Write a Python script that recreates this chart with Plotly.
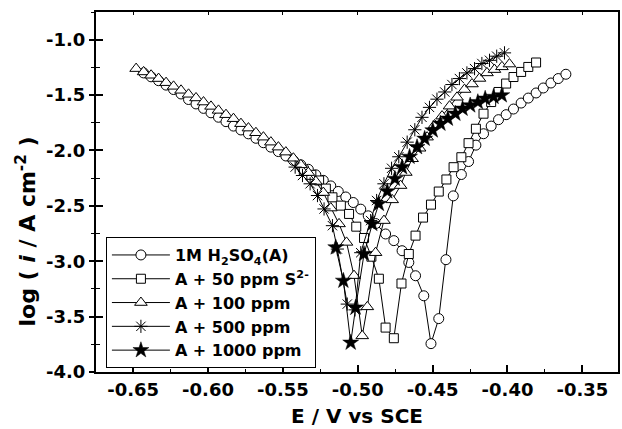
import plotly.graph_objects as go

# ---------------- data ----------------
names = ["1M H<sub>2</sub>SO<sub>4</sub>(A)", "A + 50 ppm S<sup>2-</sup>",
         "A + 100 ppm", "A + 500 ppm", "A + 1000 ppm"]

E_blank = [-0.643, -0.638, -0.633, -0.628, -0.623, -0.618, -0.613, -0.608, -0.603, -0.598,
           -0.593, -0.588, -0.583, -0.578, -0.573, -0.568, -0.563, -0.558, -0.553, -0.548,
           -0.543, -0.538, -0.533, -0.528, -0.523, -0.518, -0.513, -0.508, -0.503, -0.498,
           -0.493, -0.488, -0.4814, -0.4759, -0.4704, -0.4659, -0.4614, -0.4559, -0.4511,
           -0.4459, -0.4411, -0.4362, -0.4308, -0.426, -0.4211, -0.416, -0.4109, -0.406,
           -0.4009, -0.396, -0.3909, -0.3861, -0.3809, -0.3761, -0.371, -0.3661, -0.361]
log_blank = [-1.30, -1.335, -1.37, -1.41, -1.45, -1.49, -1.54, -1.58, -1.62, -1.66,
             -1.70, -1.74, -1.78, -1.815, -1.85, -1.89, -1.93, -1.97, -2.01, -2.05,
             -2.09, -2.13, -2.17, -2.22, -2.27, -2.32, -2.37, -2.42, -2.47, -2.53,
             -2.59, -2.66, -2.754, -2.814, -2.905, -3.011, -3.131, -3.312, -3.744,
             -3.518, -2.986, -2.410, -2.217, -2.100, -1.952, -1.849, -1.780, -1.722,
             -1.677, -1.626, -1.572, -1.527, -1.481, -1.436, -1.391, -1.351, -1.312]

E_50 = [-0.536, -0.531, -0.5258, -0.5213, -0.5169, -0.5113, -0.5058, -0.5010, -0.4958,
        -0.4909, -0.4859, -0.4814, -0.4759, -0.4708, -0.4659, -0.4614, -0.4564, -0.4511,
        -0.4459, -0.4408, -0.4360, -0.4308, -0.4260, -0.4211, -0.4160, -0.4109, -0.4060,
        -0.4009, -0.3960, -0.3909, -0.3861, -0.3809]
log_50 = [-2.18, -2.22, -2.271, -2.344, -2.423, -2.498, -2.573, -2.688, -2.790,
          -2.959, -3.158, -3.599, -3.695, -3.201, -2.935, -2.769, -2.606, -2.489,
          -2.371, -2.262, -2.151, -2.061, -1.934, -1.804, -1.668, -1.563, -1.472,
          -1.396, -1.337, -1.291, -1.246, -1.206]

E_100 = [-0.648, -0.643, -0.638, -0.633, -0.628, -0.623, -0.618, -0.613, -0.608, -0.603,
         -0.598, -0.593, -0.588, -0.583, -0.578, -0.573, -0.568, -0.563, -0.558, -0.553,
         -0.548, -0.543, -0.538, -0.533, -0.528, -0.523, -0.518, -0.5125, -0.5075, -0.5025,
         -0.497, -0.4936, -0.4881, -0.4825, -0.477, -0.4714, -0.4679, -0.4637, -0.4587,
         -0.4537, -0.4487, -0.4437, -0.4387, -0.4337, -0.4287, -0.4237, -0.4187, -0.4137,
         -0.4087, -0.4037, -0.3987]
log_100 = [-1.261, -1.291, -1.321, -1.351, -1.388, -1.421, -1.457, -1.493, -1.526, -1.563,
           -1.602, -1.638, -1.677, -1.713, -1.758, -1.798, -1.840, -1.880, -1.925, -1.970,
           -2.015, -2.07, -2.13, -2.20, -2.28, -2.38, -2.52, -2.663, -2.83, -3.13,
           -3.674, -3.412, -2.923, -2.633, -2.446, -2.317, -2.199, -2.075, -1.98,
           -1.88, -1.77, -1.69, -1.60, -1.52, -1.45, -1.40, -1.35, -1.30,
           -1.27, -1.245, -1.22]

E_500 = [-0.5418, -0.5369, -0.5318, -0.5269, -0.5225, -0.5169, -0.5136, -0.5070, -0.5018,
         -0.4980, -0.4914, -0.4874, -0.4825, -0.4774, -0.4726, -0.4670, -0.4619, -0.4571,
         -0.4521, -0.4471, -0.4419, -0.4371, -0.4321, -0.4271, -0.4220, -0.4171, -0.4120,
         -0.4072, -0.4020]
log_500 = [-2.15, -2.226, -2.301, -2.407, -2.528, -2.679, -2.890, -3.387, -3.439,
           -2.923, -2.633, -2.452, -2.301, -2.161, -2.057, -1.925, -1.813, -1.701,
           -1.611, -1.537, -1.472, -1.405, -1.351, -1.300, -1.261, -1.215, -1.186,
           -1.149, -1.119]

E_1000 = [-0.5147, -0.5096, -0.5047, -0.5014, -0.4958, -0.4903, -0.4859, -0.4803, -0.4752,
          -0.4704, -0.4654, -0.4604, -0.4553, -0.4499, -0.4448, -0.4398, -0.4348, -0.4300,
          -0.4249, -0.4198, -0.4149, -0.4093, -0.4038]
log_1000 = [-2.875, -3.176, -3.735, -3.418, -2.935, -2.663, -2.482, -2.369, -2.256,
            -2.151, -2.057, -1.970, -1.894, -1.819, -1.758, -1.713, -1.668, -1.623,
            -1.593, -1.563, -1.532, -1.516, -1.502]

x_ticks = [-0.65, -0.60, -0.55, -0.50, -0.45, -0.40, -0.35]
x_ticklabels = ["-0.65", "-0.60", "-0.55", "-0.50", "-0.45", "-0.40", "-0.35"]
y_ticks = [-4.0, -3.5, -3.0, -2.5, -2.0, -1.5, -1.0]
y_ticklabels = ["-4.0", "-3.5", "-3.0", "-2.5", "-2.0", "-1.5", "-1.0"]

X_RANGE = [-0.6748, -0.3262]
Y_RANGE = [-4.0, -0.75]

# ---------------- figure ----------------
FONT = "DejaVu Sans"
series = [
    (names[0], E_blank, log_blank, dict(symbol="circle", size=10, color="white",
                                        line=dict(color="black", width=1))),
    (names[1], E_50, log_50, dict(symbol="square", size=9, color="white",
                                  line=dict(color="black", width=1))),
    (names[2], E_100, log_100, dict(symbol="triangle-up", size=11, color="white",
                                    line=dict(color="black", width=1))),
    (names[4], E_1000, log_1000, dict(symbol="star", size=12, color="black",
                                      line=dict(color="black", width=0.5))),
    (names[3], E_500, log_500, dict(symbol="asterisk-open", size=11, color="black",
                                    line=dict(color="black", width=1))),
]
legend_rank = {names[0]: 1, names[1]: 2, names[2]: 3, names[3]: 4, names[4]: 5}

fig = go.Figure()
for nm, xs, ys, mk in series:
    assert len(xs) == len(ys), nm
    fig.add_trace(go.Scatter(x=xs, y=ys, name=nm, mode="lines+markers",
                             line=dict(color="black", width=1), marker=mk,
                             legendrank=legend_rank[nm]))
# empty trace to activate the tick-overlay axes
fig.add_trace(go.Scatter(x=[], y=[], xaxis="x2", yaxis="y2", showlegend=False))

axis_common = dict(showgrid=False, zeroline=False, linecolor="black", linewidth=2,
                   tickcolor="black", tickwidth=1.5)

fig.update_layout(
    width=622, height=429,
    margin=dict(l=96, r=2, t=12, b=57),
    paper_bgcolor="white", plot_bgcolor="white",
    font=dict(family=FONT, size=18, color="black", weight="bold"),
    xaxis=dict(range=X_RANGE, tickvals=x_ticks, ticktext=x_ticklabels,
               ticks="inside", ticklen=7, mirror=True,
               minor=dict(ticks="inside", ticklen=3, dtick=0.025, tick0=-0.65,
                          tickcolor="black", tickwidth=1.2),
               tickfont=dict(family=FONT, size=18, weight="bold"), **axis_common),
    yaxis=dict(range=Y_RANGE, tickvals=y_ticks, ticktext=y_ticklabels,
               ticks="outside", ticklen=5, mirror=True,
               minor=dict(ticks="outside", ticklen=3, dtick=0.25, tick0=-4.0,
                          tickcolor="black", tickwidth=1.2),
               tickfont=dict(family=FONT, size=18, weight="bold"), **axis_common),
    xaxis2=dict(range=X_RANGE, overlaying="x", side="top", anchor="y",
                tickvals=x_ticks, showticklabels=False, ticks="inside", ticklen=3,
                showline=False, showgrid=False, zeroline=False,
                tickcolor="black", tickwidth=1.2),
    yaxis2=dict(range=Y_RANGE, overlaying="y", side="left", anchor="x",
                tickvals=y_ticks, showticklabels=False, ticks="inside", ticklen=7,
                minor=dict(ticks="inside", ticklen=4, dtick=0.25, tick0=-4.0,
                           tickcolor="black", tickwidth=1.2),
                showline=False, showgrid=False, zeroline=False,
                tickcolor="black", tickwidth=1.5),
    legend=dict(x=0.019, y=0.011, xanchor="left", yanchor="bottom",
                bgcolor="white", bordercolor="black", borderwidth=1,
                font=dict(family=FONT, size=16, weight="bold"),
                itemwidth=58, tracegroupgap=0),
    showlegend=True,
)

fig.add_annotation(text="E / V vs SCE", xref="paper", yref="paper",
                   x=0.5, y=-0.122, xanchor="center", yanchor="middle",
                   showarrow=False, font=dict(family=FONT, size=20, weight="bold"))
fig.add_annotation(text="log ( <i>i</i> / A cm<sup>-2</sup> )", xref="paper", yref="paper",
                   x=-0.135, y=0.389, xanchor="center", yanchor="middle", textangle=-90,
                   showarrow=False, font=dict(family=FONT, size=22, weight="bold"))

fig.write_html("out.html")
